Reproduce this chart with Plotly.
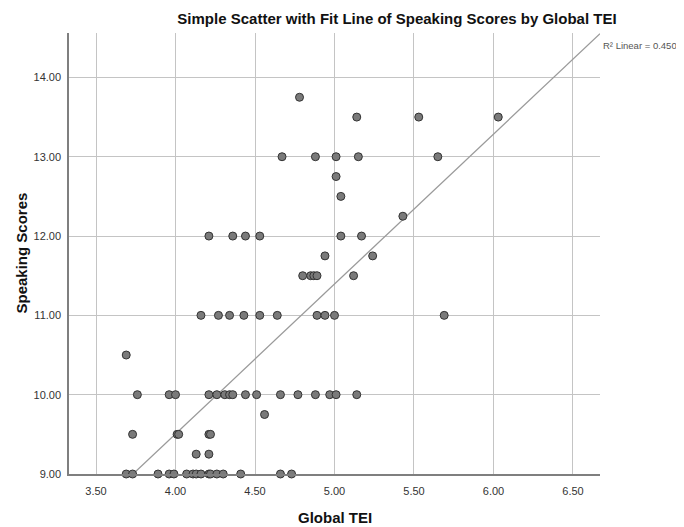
import plotly.graph_objects as go

# ---- data (Global TEI vs Speaking Scores) ----
global_tei = [
    4.78,
    5.14, 5.53, 6.03,
    4.67, 4.88, 5.01, 5.15, 5.65,
    5.01,
    5.04,
    5.43,
    4.21, 4.36, 4.44, 4.53, 5.04, 5.17,
    4.94, 5.24,
    4.80, 4.85, 4.87, 4.89, 5.12,
    4.16, 4.27, 4.34, 4.43, 4.53, 4.64, 4.89, 4.94, 5.00, 5.69,
    3.69,
    3.76, 3.96, 4.00, 4.21, 4.26, 4.31, 4.34, 4.36, 4.44, 4.51, 4.66, 4.77, 4.88, 4.97, 5.01, 5.14,
    4.56,
    3.73, 4.01, 4.02, 4.21, 4.22,
    4.13, 4.21,
    3.69, 3.73, 3.89, 3.96, 3.99, 4.07, 4.11, 4.13, 4.16, 4.21, 4.22, 4.26, 4.30, 4.41, 4.66, 4.73,
]
speaking_scores = [
    13.75,
    13.5, 13.5, 13.5,
    13.0, 13.0, 13.0, 13.0, 13.0,
    12.75,
    12.5,
    12.25,
    12.0, 12.0, 12.0, 12.0, 12.0, 12.0,
    11.75, 11.75,
    11.5, 11.5, 11.5, 11.5, 11.5,
    11.0, 11.0, 11.0, 11.0, 11.0, 11.0, 11.0, 11.0, 11.0, 11.0,
    10.5,
    10.0, 10.0, 10.0, 10.0, 10.0, 10.0, 10.0, 10.0, 10.0, 10.0, 10.0, 10.0, 10.0, 10.0, 10.0, 10.0,
    9.75,
    9.5, 9.5, 9.5, 9.5, 9.5,
    9.25, 9.25,
    9.0, 9.0, 9.0, 9.0, 9.0, 9.0, 9.0, 9.0, 9.0, 9.0, 9.0, 9.0, 9.0, 9.0, 9.0, 9.0,
]

x_tick_values = [3.5, 4.0, 4.5, 5.0, 5.5, 6.0, 6.5]
x_tick_labels = ["3.50", "4.00", "4.50", "5.00", "5.50", "6.00", "6.50"]
y_tick_values = [9, 10, 11, 12, 13, 14]
y_tick_labels = ["9.00", "10.00", "11.00", "12.00", "13.00", "14.00"]

x_range = [3.33, 6.67]
y_range = [9.0, 14.56]

# linear fit line
fit_intercept = 1.945
fit_slope = 1.89
r2_text = "R\u00b2 Linear = 0.450"

title_text = "Simple Scatter with Fit Line of Speaking Scores by Global TEI"
x_title = "Global TEI"
y_title = "Speaking Scores"

TITLE_FONT = "Liberation Sans, Arial, sans-serif"
TICK_FONT = "Liberation Sans, Arial, sans-serif"

# the page body adds an 8px margin, so the figure is drawn 8px smaller and shifted
PAGE_OFFSET = 8
FIG_W = 684 - PAGE_OFFSET
FIG_H = 527 - PAGE_OFFSET

fit_x = list(x_range)
fit_y = [fit_intercept + fit_slope * v for v in fit_x]

fig = go.Figure()
fig.add_trace(go.Scatter(
    x=fit_x, y=fit_y, mode="lines",
    line=dict(color="#9a9a9a", width=1.3),
    hoverinfo="skip", showlegend=False,
))
fig.add_trace(go.Scatter(
    x=global_tei, y=speaking_scores, mode="markers",
    marker=dict(size=8, color="#7a7a7a", line=dict(color="#333333", width=1)),
    cliponaxis=False, showlegend=False,
))

fig.update_layout(
    width=FIG_W, height=FIG_H,
    margin=dict(l=69 - PAGE_OFFSET, r=684 - 600, t=33 - PAGE_OFFSET, b=527 - 474),
    paper_bgcolor="white", plot_bgcolor="white",
    title=dict(
        text=title_text, xref="container", x=(397 - PAGE_OFFSET) / FIG_W, xanchor="center",
        yref="container", y=1 - (19 - PAGE_OFFSET) / FIG_H, yanchor="middle",
        font=dict(family=TITLE_FONT, size=15, color="#111111", weight="bold"),
    ),
    xaxis=dict(
        range=x_range, tickmode="array", tickvals=x_tick_values, ticktext=x_tick_labels,
        showgrid=True, gridcolor="#c4c4c4", gridwidth=1,
        showline=True, linecolor="#7f7f7f", linewidth=1.5,
        zeroline=False, ticks="", ticklabelstandoff=6, automargin=False,
        tickfont=dict(family=TICK_FONT, size=11, color="#333333"),
    ),
    yaxis=dict(
        range=y_range, tickmode="array", tickvals=y_tick_values, ticktext=y_tick_labels,
        showgrid=True, gridcolor="#c4c4c4", gridwidth=1,
        showline=True, linecolor="#7f7f7f", linewidth=1.5,
        zeroline=False, ticks="", ticklabelstandoff=4, automargin=False,
        tickfont=dict(family=TICK_FONT, size=11, color="#333333"),
    ),
    annotations=[
        dict(text=x_title, xref="paper", yref="paper", x=(335 - 69) / 531, y=(474 - 517) / 441,
             xanchor="center", yanchor="middle", showarrow=False,
             font=dict(family=TITLE_FONT, size=15, color="#111111", weight="bold")),
        dict(text=y_title, xref="paper", yref="paper", x=(21 - 69) / 531, y=0.5,
             xanchor="center", yanchor="middle", showarrow=False, textangle=-90,
             font=dict(family=TITLE_FONT, size=15, color="#111111", weight="bold")),
        dict(text=r2_text, xref="paper", yref="paper", x=(601 - 69) / 531, y=(474 - 45) / 441,
             xanchor="left", yanchor="middle", showarrow=False,
             font=dict(family=TICK_FONT, size=9.5, color="#555555")),
    ],
)

fig.write_html("out.html")
